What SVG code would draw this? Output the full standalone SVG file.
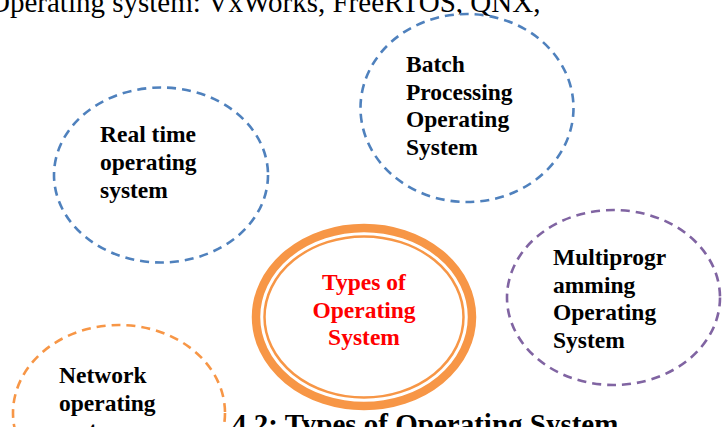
<svg xmlns="http://www.w3.org/2000/svg" width="725" height="427" viewBox="0 0 725 427">
<style>
.dash{fill:#fff;stroke-width:2.6;stroke-dasharray:9 6}
.blue{stroke:#4f81bd}
.purple{stroke:#8064a2}
.orange{stroke:#f79646}
.lbl{font-family:"Liberation Serif","Times New Roman",serif;font-weight:bold;font-size:23.5px;fill:#000}
.red{fill:#ff0000;text-anchor:middle}
.plain{font-family:"Liberation Serif","Times New Roman",serif;font-size:29px;fill:#000}
</style>
<rect width="725" height="427" fill="#fff"/>
<text class="plain" x="-11" y="12">Operating system: VxWorks, FreeRTOS, QNX,</text>
<g id="caption">
<text class="lbl" x="232" y="434" style="font-size:29px">4.2: Types of Operating System</text>
</g>
<g id="connectors"></g>
<g id="realtime">
<ellipse class="dash blue" cx="161" cy="175" rx="107" ry="87.5"/>
<text class="lbl"><tspan x="100" y="142">Real time</tspan><tspan x="100" y="170">operating</tspan><tspan x="100" y="198">system</tspan></text>
</g>
<g id="batch">
<ellipse class="dash blue" cx="467" cy="108" rx="106.5" ry="94"/>
<text class="lbl"><tspan x="406" y="72">Batch</tspan><tspan x="406" y="99.5">Processing</tspan><tspan x="406" y="127">Operating</tspan><tspan x="406" y="154.5">System</tspan></text>
</g>
<g id="multiprogramming">
<ellipse class="dash purple" cx="613.5" cy="297.5" rx="106.5" ry="87.5"/>
<text class="lbl"><tspan x="553" y="265">Multiprogr</tspan><tspan x="553" y="292.5">amming</tspan><tspan x="553" y="320">Operating</tspan><tspan x="553" y="347.5">System</tspan></text>
</g>
<g id="network">
<ellipse class="dash orange" cx="119" cy="413" rx="106" ry="88"/>
<text class="lbl"><tspan x="59" y="383">Network</tspan><tspan x="59" y="410.5">operating</tspan><tspan x="59" y="438">system</tspan></text>
</g>
<g id="types">
<ellipse cx="364" cy="317" rx="108" ry="89" fill="#fff" stroke="#f79646" stroke-width="8.5"/>
<ellipse cx="364" cy="317" rx="99.5" ry="80.5" fill="none" stroke="#f79646" stroke-width="2.5"/>
<text class="lbl red"><tspan x="364" y="290">Types of</tspan><tspan x="364" y="317.5">Operating</tspan><tspan x="364" y="345">System</tspan></text>
</g>
</svg>
